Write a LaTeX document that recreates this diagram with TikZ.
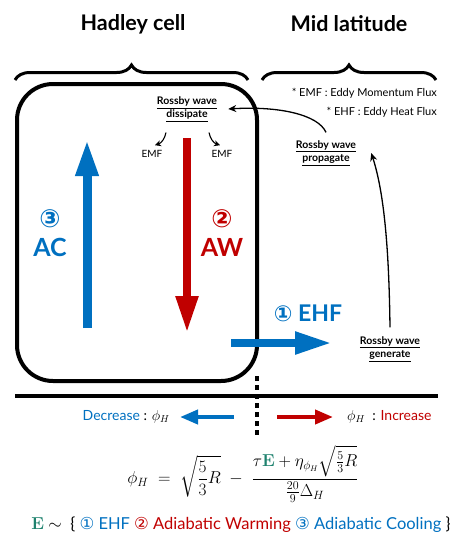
\documentclass[tikz,border=0pt]{standalone}
\usepackage{amsmath}
\usepackage[no-math]{fontspec}
\setmainfont{Lato}
\newfontfamily\circfont{DejaVu Sans}
\usetikzlibrary{arrows.meta,decorations.pathreplacing}

\definecolor{acblue}{RGB}{0,112,192}
\definecolor{awred}{RGB}{192,0,0}
\definecolor{eteal}{RGB}{30,130,110}

\tikzstyle{title} = [font=\bfseries\fontsize{21.5}{25}\selectfont]
\tikzstyle{bracket} = [line width=3pt,decorate,decoration={brace,amplitude=15pt}]
\tikzstyle{cell} = [line width=4pt,rounded corners=36pt]
\tikzstyle{biglabel} = [font=\bfseries\fontsize{25}{28}\selectfont,inner sep=0pt]
\tikzstyle{wave} = [font=\bfseries\fontsize{10.5}{13}\selectfont,align=center,inner sep=1pt]
\tikzstyle{emf} = [font=\fontsize{10}{11}\selectfont,inner sep=1pt]
\tikzstyle{note} = [font=\fontsize{11}{12}\selectfont,anchor=east,inner sep=0pt]
\tikzstyle{fat arrow} = [line width=9pt,-{Triangle[length=37pt,width=21pt]}]
\tikzstyle{mid arrow} = [line width=4pt,-{Triangle[length=18pt,width=14pt]}]
\tikzstyle{wave arrow} = [line width=1.3pt,-{Stealth[length=8pt,width=7pt]}]
\tikzstyle{emf arrow} = [line width=1.1pt,-{Stealth[length=6pt,width=6pt]}]
\tikzstyle{phi} = [font=\fontsize{14}{16}\selectfont,inner sep=0pt]

\begin{document}
\begin{tikzpicture}[x=1pt,y=-1pt]
    \useasboundingbox (0,0) rectangle (450,547);

    % titles and braces
    \node [style=title] (hadley) at (133,24) {Hadley cell};
    \node [style=title] (midlat) at (349,24) {Mid latitude};
    \draw [style=bracket] (15,80) -- (248,80);
    \draw [style=bracket] (262,80) -- (436,80);

    % hadley cell
    \draw [style=cell] (17,84) rectangle (257,381);

    \coordinate (ac foot) at (87,328);
    \coordinate (ac tip) at (87,139);
    \coordinate (aw foot) at (187,138);
    \coordinate (aw tip) at (187,333);
    \draw [style=fat arrow, acblue] (ac foot) -- (ac tip);
    \draw [style=fat arrow, awred, line width=8pt] (aw foot) -- (aw tip);

    \node [style=biglabel, acblue] (ac num) at (50,219) {\circfont ③};
    \node [style=biglabel, acblue] (ac) at (50,247) {AC};
    \node [style=biglabel, awred] (aw num) at (222,219) {\circfont ②};
    \node [style=biglabel, awred] (aw) at (222,247) {AW};

    % rossby waves
    \node [style=wave] (dissipate) at (187,109) {\underline{Rossby wave}\\\underline{dissipate}};
    \node [style=emf] (emf left) at (152,154) {EMF};
    \node [style=emf] (emf right) at (222,154) {EMF};
    \draw [style=emf arrow] ([shift={(-21,10)}]dissipate.south) to [bend left=30] ([shift={(3,-4)}]emf left.north);
    \draw [style=emf arrow] ([shift={(22,10)}]dissipate.south) to [bend right=30] ([shift={(-2,-4)}]emf right.north);

    \node [style=note] (note emf) at (437,93) {* EMF : Eddy Momentum Flux};
    \node [style=note] (note ehf) at (437,112) {* EHF : Eddy Heat Flux};

    \node [style=wave] (propagate) at (326,153) {\underline{Rossby wave}\\\underline{propagate}};
    \node [style=wave] (generate) at (390,349) {\underline{Rossby wave}\\\underline{generate}};

    \draw [style=wave arrow] ([yshift=7pt]propagate.north) .. controls +(-8,-18) and +(50,-3) .. ([xshift=10pt]dissipate.east);
    \draw [style=wave arrow] ([yshift=8pt]generate.north) .. controls +(-1,-78) and +(13,40) .. ([xshift=14pt]propagate.east);

    % eddy heat flux
    \coordinate (ehf foot) at (231,343);
    \coordinate (ehf tip) at (332,343);
    \draw [style=fat arrow, acblue, line width=8pt] (ehf foot) -- (ehf tip);
    \node [style=biglabel, acblue, font=\bfseries\fontsize{23}{26}\selectfont] (ehf) at (308,313) {{\circfont\fontsize{22}{26}\selectfont ①} EHF};

    % ground line
    \coordinate (ground left) at (15,396);
    \coordinate (ground right) at (438,396);
    \coordinate (split top) at (257,376);
    \coordinate (split bottom) at (257,438);
    \draw [line width=3.5pt] (ground left) -- (ground right);
    \draw [line width=4pt, dash pattern=on 4.5pt off 4.5pt] (split top) -- (split bottom);

    % phi_H response
    \node [style=phi, anchor=east] (decrease) at (170,417) {\textcolor{acblue}{Decrease} : $\phi_H$};
    \node [style=phi, anchor=west] (increase) at (347,417) {$\phi_H$ \ : \textcolor{awred}{Increase}};
    \coordinate (dec foot) at (234,417);
    \coordinate (inc foot) at (277,417);
    \draw [style=mid arrow, acblue] (dec foot) -- ([xshift=10pt]decrease.east);
    \draw [style=mid arrow, awred] (inc foot) -- ([xshift=-14pt]increase.west);

    % formula
    \node [font=\fontsize{17}{20}\selectfont] (formula) at (243,474)
        {$\displaystyle \phi_H \;=\; \sqrt{\frac{5}{3}R} \;-\; \frac{\tau\textcolor{eteal}{\mathbf{E}} + \eta_{\phi_H}\sqrt{\frac{5}{3}R}}{\frac{20}{9}\Delta_H}$};

    % legend
    \node [style=phi, font=\fontsize{16.5}{19}\selectfont] (legend) at (241,525)
        {$\textcolor{eteal}{\mathbf{E}}$ $\sim$ \ \{ \textcolor{acblue}{{\circfont ①} EHF} \textcolor{awred}{{\circfont ②} Adiabatic Warming} \textcolor{acblue}{{\circfont ③} Adiabatic Cooling} \}};
\end{tikzpicture}
\end{document}
